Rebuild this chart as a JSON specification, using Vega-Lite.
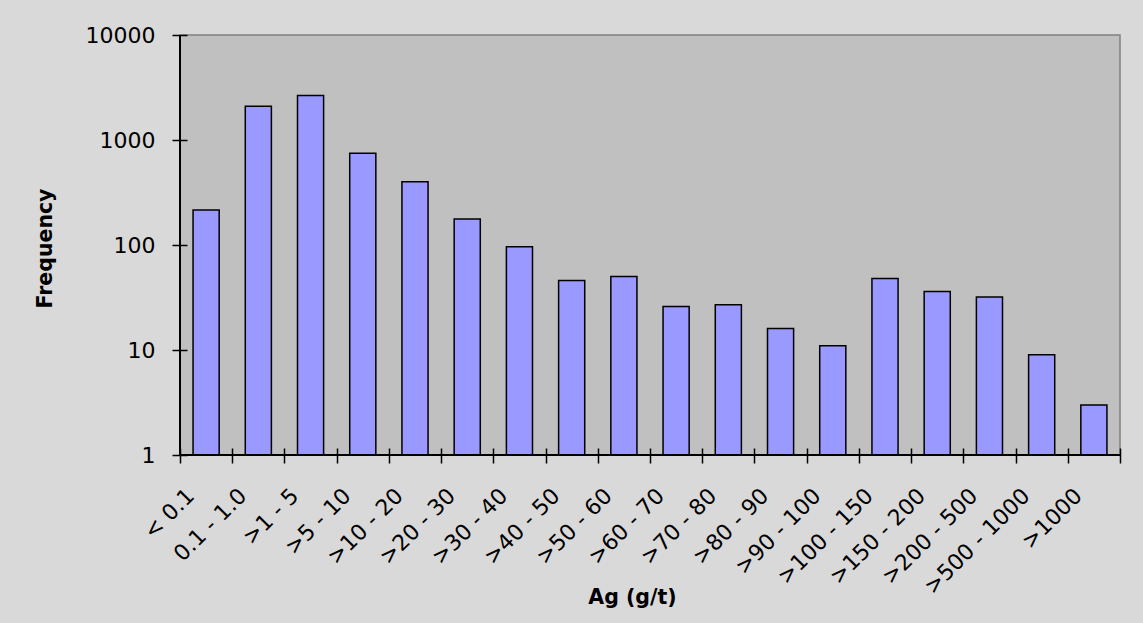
{
  "$schema": "https://vega.github.io/schema/vega-lite/v6.json",
  "width": 940,
  "height": 420,
  "autosize": {"type": "none"},
  "padding": {"left": 180, "top": 35, "right": 23, "bottom": 168},
  "background": "#d9d9d9",
  "config": {
    "font": "DejaVu Sans",
    "view": {"stroke": "#808080", "strokeWidth": 1.5, "fill": "#c0c0c0"}
  },
  "data": {
    "values": [
      {"range": "< 0.1", "count": 215},
      {"range": "0.1 - 1.0", "count": 2100},
      {"range": ">1 - 5", "count": 2650},
      {"range": ">5 - 10", "count": 747},
      {"range": ">10 - 20", "count": 401},
      {"range": ">20 - 30", "count": 177},
      {"range": ">30 - 40", "count": 96},
      {"range": ">40 - 50", "count": 46},
      {"range": ">50 - 60", "count": 50},
      {"range": ">60 - 70", "count": 26},
      {"range": ">70 - 80", "count": 27},
      {"range": ">80 - 90", "count": 16},
      {"range": ">90 - 100", "count": 11},
      {"range": ">100 - 150", "count": 48},
      {"range": ">150 - 200", "count": 36},
      {"range": ">200 - 500", "count": 32},
      {"range": ">500 - 1000", "count": 9},
      {"range": ">1000", "count": 3}
    ]
  },
  "layer": [
    {
      "mark": {"type": "bar", "fill": "#9999ff", "stroke": "#000000", "strokeWidth": 1.5, "width": {"band": 0.5}},
      "encoding": {
        "x": {
          "field": "range",
          "type": "nominal",
          "sort": null,
          "scale": {"paddingInner": 0, "paddingOuter": 0},
          "axis": {
            "title": "Ag (g/t)",
            "titleFontSize": 20.5,
            "titleFontWeight": "bold",
            "titleColor": "#000000",
            "titleX": 452,
            "titleY": 155,
            "titleAlign": "center",
            "titleBaseline": "alphabetic",
            "labelAngle": -45,
            "labelAlign": "right",
            "labelBaseline": "middle",
            "labelFontSize": 22,
            "labelColor": "#000000",
            "labelOffset": -16,
            "labelPadding": 29,
            "labelOverlap": false,
            "tickBand": "extent",
            "tickSize": 15,
            "tickColor": "#000000",
            "tickWidth": 1.5,
            "offset": -7,
            "domain": false,
            "grid": false,
            "zindex": 1
          }
        },
        "y": {
          "field": "count",
          "type": "quantitative",
          "scale": {"type": "log", "domain": [1, 10000]},
          "axis": {
            "title": "Frequency",
            "titleFontSize": 20.5,
            "titleFontWeight": "bold",
            "titleColor": "#000000",
            "titleX": -136,
            "titleY": 213,
            "titleAngle": -90,
            "titleAlign": "center",
            "titleBaseline": "alphabetic",
            "values": [1, 10, 100, 1000, 10000],
            "format": "d",
            "labelFontSize": 22,
            "labelColor": "#000000",
            "labelPadding": 17,
            "labelOverlap": false,
            "labelFlush": false,
            "tickSize": 15,
            "tickColor": "#000000",
            "tickWidth": 1.5,
            "offset": -7,
            "domain": false,
            "grid": false,
            "zindex": 1
          }
        },
        "y2": {"datum": 1}
      }
    },
    {
      "mark": {"type": "rule", "color": "#000000", "strokeWidth": 2},
      "encoding": {"y": {"datum": 1}}
    },
    {
      "mark": {"type": "rule", "color": "#000000", "strokeWidth": 2},
      "encoding": {"x": {"datum": "< 0.1", "bandPosition": 0}}
    }
  ]
}
